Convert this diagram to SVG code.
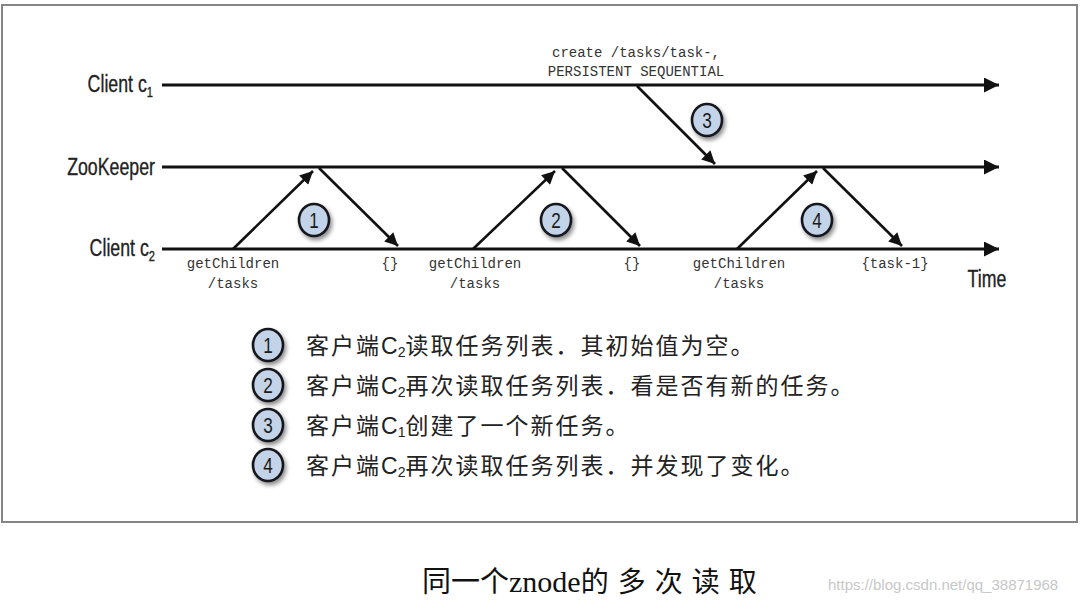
<svg xmlns="http://www.w3.org/2000/svg" width="1080" height="604" viewBox="0 0 1080 604">
<style>
.life{stroke:#111;stroke-width:3;fill:none}
.msg{stroke:#111;stroke-width:2.6;fill:none}
.lbl{font-family:"Liberation Sans",Arial,sans-serif;font-size:24px;fill:#222;stroke:#222;stroke-width:0.35}
.mono{font-family:"Liberation Mono","DejaVu Sans Mono",monospace;font-size:14px;fill:#333;text-anchor:middle}
.num{font-family:"Liberation Sans",Arial,sans-serif;font-size:22px;fill:#1a1a1a;text-anchor:middle}
.badge{fill:#c3d4e8;stroke:#14181f;stroke-width:2.6}
.leg{font-family:"Noto Sans CJK SC",sans-serif;font-size:23px;fill:#222;letter-spacing:2px}
.sub{font-family:"Liberation Sans",Arial,sans-serif;font-size:14px;letter-spacing:0}
.cc{font-family:"Liberation Sans",Arial,sans-serif;letter-spacing:0}
</style>
<defs>
<marker id="ah" viewBox="0 0 10 10" refX="10" refY="5" markerWidth="5.5" markerHeight="5" markerUnits="strokeWidth" orient="auto">
<path d="M0,0 L10,5 L0,10 Z" fill="#111"/>
</marker>
<filter id="sh" x="-50%" y="-50%" width="200%" height="200%">
<feDropShadow dx="2" dy="3" stdDeviation="2" flood-color="#000" flood-opacity="0.45"/>
</filter>
</defs>
<rect x="0" y="0" width="1080" height="604" fill="#fff"/>
<rect id="frame" x="2" y="5" width="1075" height="517" fill="#fff" stroke="#858585" stroke-width="2"/>

<g id="lifelines">
<g id="client-c1">
<text class="lbl" transform="translate(153,92) scale(0.74,1)" text-anchor="end">Client c<tspan font-size="15" dy="5">1</tspan></text>
<line class="life" x1="162" y1="85" x2="999" y2="85" marker-end="url(#ah)"/>
</g>
<g id="zookeeper">
<text class="lbl" transform="translate(155,175) scale(0.74,1)" text-anchor="end">ZooKeeper</text>
<line class="life" x1="162" y1="167" x2="999" y2="167" marker-end="url(#ah)"/>
</g>
<g id="client-c2">
<text class="lbl" transform="translate(155,256) scale(0.74,1)" text-anchor="end">Client c<tspan font-size="15" dy="5">2</tspan></text>
<line class="life" x1="162" y1="249" x2="999" y2="249" marker-end="url(#ah)"/>
</g>
<text class="lbl" transform="translate(987,287) scale(0.74,1)" text-anchor="middle">Time</text>
</g>

<g id="connectors">
<line class="msg" x1="233" y1="249" x2="313" y2="171" marker-end="url(#ah)"/>
<line class="msg" x1="319" y1="168" x2="398" y2="246" marker-end="url(#ah)"/>
<line class="msg" x1="473" y1="249" x2="555" y2="171" marker-end="url(#ah)"/>
<line class="msg" x1="562" y1="168" x2="640" y2="246" marker-end="url(#ah)"/>
<line class="msg" x1="637" y1="86" x2="715" y2="164" marker-end="url(#ah)"/>
<line class="msg" x1="737" y1="249" x2="817" y2="171" marker-end="url(#ah)"/>
<line class="msg" x1="823" y1="168" x2="902" y2="246" marker-end="url(#ah)"/>
</g>

<g id="labels">
<text class="mono" x="636" y="57">create /tasks/task-,</text>
<text class="mono" x="636" y="76">PERSISTENT SEQUENTIAL</text>
<text class="mono" x="233" y="268">getChildren</text>
<text class="mono" x="233" y="288">/tasks</text>
<text class="mono" x="390" y="268">{}</text>
<text class="mono" x="475" y="268">getChildren</text>
<text class="mono" x="475" y="288">/tasks</text>
<text class="mono" x="632" y="268">{}</text>
<text class="mono" x="739" y="268">getChildren</text>
<text class="mono" x="739" y="288">/tasks</text>
<text class="mono" x="895" y="268">{task-1}</text>
</g>

<g id="step-1"><ellipse class="badge" cx="314" cy="220" rx="15" ry="16" filter="url(#sh)"/><text class="num" transform="translate(314,228) scale(0.78,1)">1</text></g>
<g id="step-2"><ellipse class="badge" cx="556" cy="220" rx="15" ry="16" filter="url(#sh)"/><text class="num" transform="translate(556,228) scale(0.78,1)">2</text></g>
<g id="step-3"><ellipse class="badge" cx="707" cy="120" rx="15" ry="16" filter="url(#sh)"/><text class="num" transform="translate(707,128) scale(0.78,1)">3</text></g>
<g id="step-4"><ellipse class="badge" cx="817" cy="220" rx="15" ry="16" filter="url(#sh)"/><text class="num" transform="translate(817,228) scale(0.78,1)">4</text></g>

<g id="legend">
<g id="legend-1"><ellipse class="badge" cx="268" cy="345" rx="15" ry="16" filter="url(#sh)"/><text class="num" transform="translate(268,353) scale(0.78,1)">1</text>
<text class="leg" x="306" y="354">客户端<tspan class="cc">C</tspan><tspan class="sub" dy="3">2</tspan><tspan dy="-3">读取任务列表．其初始值为空。</tspan></text></g>
<g id="legend-2"><ellipse class="badge" cx="268" cy="385" rx="15" ry="16" filter="url(#sh)"/><text class="num" transform="translate(268,393) scale(0.78,1)">2</text>
<text class="leg" x="306" y="394">客户端<tspan class="cc">C</tspan><tspan class="sub" dy="3">2</tspan><tspan dy="-3">再次读取任务列表．看是否有新的任务。</tspan></text></g>
<g id="legend-3"><ellipse class="badge" cx="268" cy="425" rx="15" ry="16" filter="url(#sh)"/><text class="num" transform="translate(268,433) scale(0.78,1)">3</text>
<text class="leg" x="306" y="434">客户端<tspan class="cc">C</tspan><tspan class="sub" dy="3">1</tspan><tspan dy="-3">创建了一个新任务。</tspan></text></g>
<g id="legend-4"><ellipse class="badge" cx="268" cy="465" rx="15" ry="16" filter="url(#sh)"/><text class="num" transform="translate(268,473) scale(0.78,1)">4</text>
<text class="leg" x="306" y="474">客户端<tspan class="cc">C</tspan><tspan class="sub" dy="3">2</tspan><tspan dy="-3">再次读取任务列表．并发现了变化。</tspan></text></g>
</g>

<text id="caption" x="422" y="592" font-family="'Liberation Serif','Noto Sans CJK SC',serif" font-size="29" fill="#111">同一个<tspan font-size="30">znode</tspan><tspan font-size="28" letter-spacing="9">的多次读取</tspan></text>
<text id="watermark" x="828" y="590" font-family="'Liberation Sans',Arial,sans-serif" font-size="15" fill="#c8c8c8">https://blog.csdn.net/qq_38871968</text>
</svg>
